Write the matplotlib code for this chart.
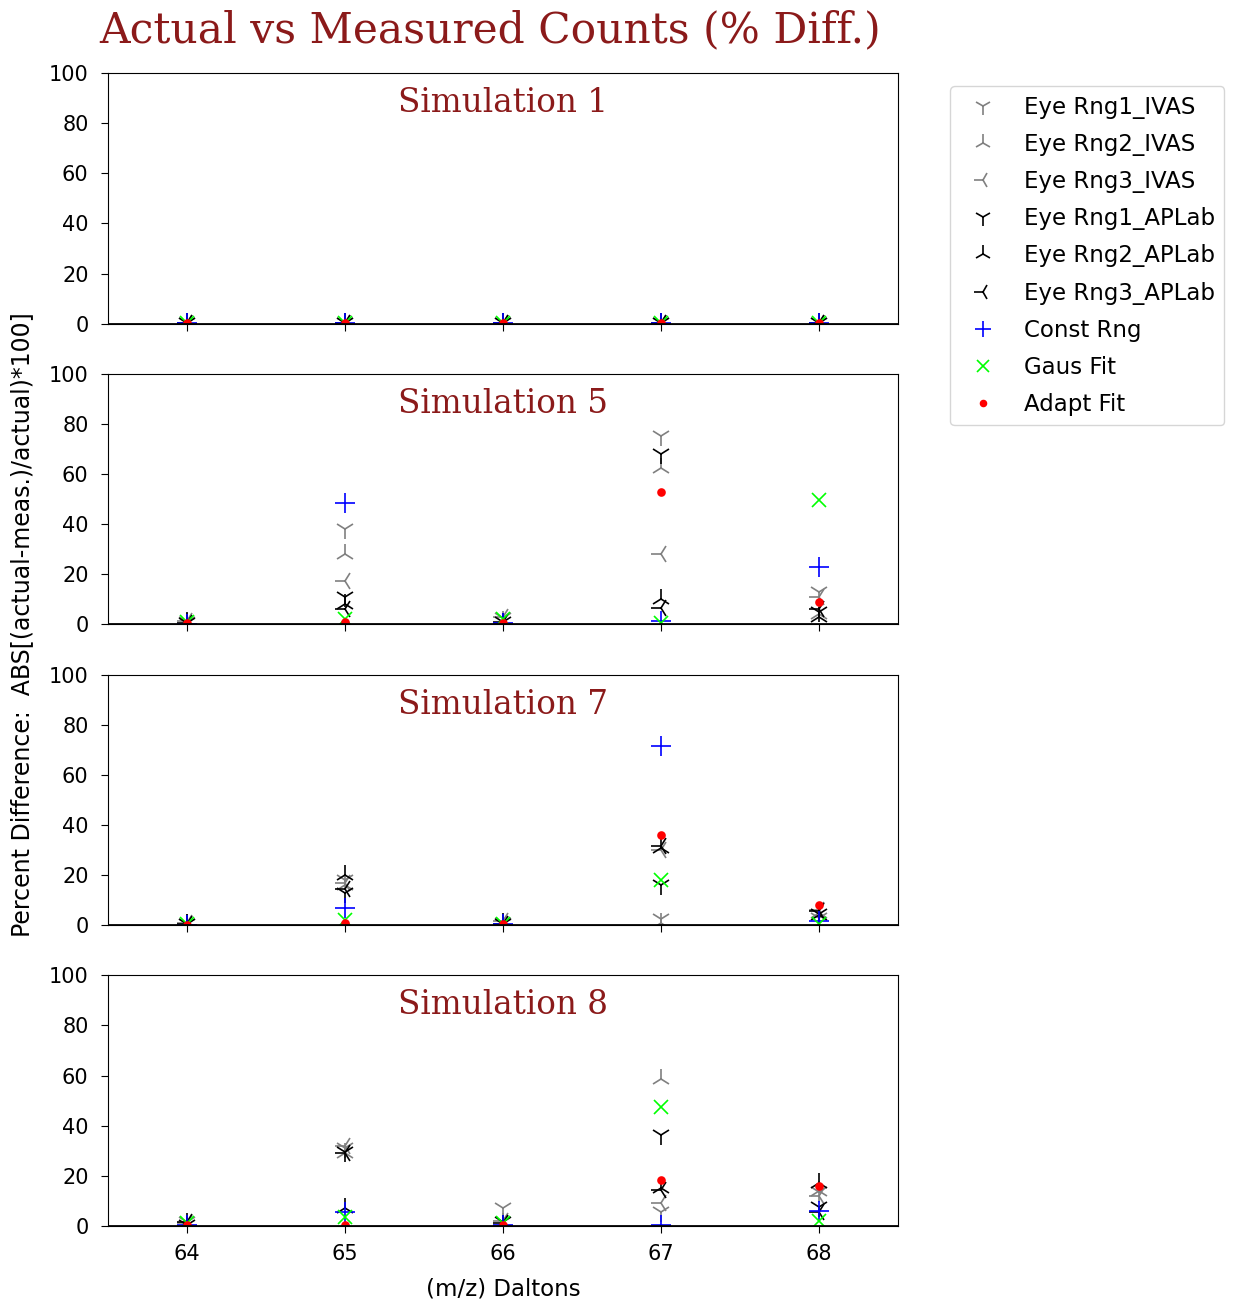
import matplotlib
matplotlib.use("Agg")
import matplotlib.pyplot as plt

masses = [64, 65, 66, 67, 68]
sim_names = ["Simulation 1", "Simulation 5", "Simulation 7", "Simulation 8"]
series_labels = ["Eye Rng1_IVAS", "Eye Rng2_IVAS", "Eye Rng3_IVAS",
                 "Eye Rng1_APLab", "Eye Rng2_APLab", "Eye Rng3_APLab",
                 "Const Rng", "Gaus Fit", "Adapt Fit"]

# percent difference per simulation, one list per method (order of series_labels)
sim1 = [
    [0.3, 0.3, 0.3, 0.3, 0.3],
    [0.2, 0.2, 0.2, 0.2, 0.2],
    [0.3, 0.3, 0.3, 0.3, 0.3],
    [0.3, 0.3, 0.3, 0.3, 0.3],
    [0.2, 0.2, 0.2, 0.2, 0.2],
    [0.3, 0.3, 0.3, 0.3, 0.3],
    [0.1, 0.1, 0.1, 0.1, 0.1],
    [0.1, 0.1, 0.1, 0.1, 0.1],
    [0.1, 0.1, 0.1, 0.1, 0.1],
]
sim5 = [
    [1.0, 38.0, 2.5, 75.0, 13.0],
    [0.5, 28.0, 1.5, 62.5, 4.0],
    [1.5, 17.5, 3.0, 28.0, 11.0],
    [0.5, 11.0, 1.0, 68.0, 5.0],
    [1.0, 8.0, 0.5, 10.0, 3.0],
    [0.5, 6.0, 1.0, 6.5, 6.0],
    [0.3, 48.5, 0.5, 1.5, 23.0],
    [1.0, 2.0, 2.0, 0.5, 49.5],
    [0.5, 1.0, 0.5, 53.0, 9.0],
]
sim7 = [
    [0.5, 18.0, 1.0, 2.5, 3.0],
    [0.3, 16.0, 0.5, 1.0, 5.0],
    [1.0, 17.0, 1.5, 30.0, 6.0],
    [0.5, 13.0, 0.5, 16.0, 4.5],
    [0.5, 20.0, 1.0, 31.0, 4.0],
    [0.3, 14.5, 0.5, 31.5, 5.5],
    [0.2, 7.0, 0.5, 71.5, 1.5],
    [0.5, 2.0, 0.5, 18.0, 0.5],
    [0.2, 1.0, 0.3, 36.0, 8.0],
]
sim8 = [
    [1.5, 31.0, 7.0, 5.5, 13.5],
    [0.5, 29.0, 1.0, 58.5, 14.0],
    [1.0, 32.0, 2.0, 9.0, 12.0],
    [0.5, 29.5, 1.5, 36.5, 7.5],
    [1.0, 7.0, 0.5, 15.0, 17.0],
    [1.5, 29.0, 1.0, 14.5, 5.5],
    [0.3, 5.5, 0.5, 0.5, 6.0],
    [1.0, 3.5, 1.0, 47.5, 2.0],
    [0.3, 0.5, 0.5, 18.5, 16.0],
]
all_sims = [sim1, sim5, sim7, sim8]

markers = ["1", "2", "3", "1", "2", "3", "+", "x", "."]
colors = ["grey", "grey", "grey", "black", "black", "black", "blue", "lime", "red"]
sizes = [15, 15, 15, 15, 15, 15, 14, 10, 10]

title_color = "#8b1a1a"

fig = plt.figure(figsize=(12.34, 13.01), dpi=100)
fig.subplots_adjust(left=0.0875, right=0.7277, top=1 - 73 / 1301,
                    bottom=1 - 1226 / 1301, hspace=0.2)
axes = fig.subplots(4, 1, sharex=True)

for ax, name, data in zip(axes, sim_names, all_sims):
    for vals, lab, m, c, s in zip(data, series_labels, markers, colors, sizes):
        ax.plot(masses, vals, linestyle="none", marker=m, color=c,
                markersize=s, markeredgewidth=1.2, label=lab)
    ax.axhline(0, color="black", linewidth=2)
    ax.set_xlim(63.5, 68.5)
    ax.set_ylim(0, 100)
    ax.set_yticks([0, 20, 40, 60, 80, 100])
    ax.set_xticks(masses)
    ax.tick_params(labelsize=15, length=5)
    ax.tick_params(axis="y", pad=9)
    ax.tick_params(axis="x", pad=8)
    ax.text(0.5, 0.88, name, transform=ax.transAxes, ha="center", va="center",
            family="DejaVu Serif", fontsize=23.5, color=title_color)

axes[-1].set_xlabel("(m/z) Daltons", fontsize=16.5, labelpad=10)

fig.text(490 / 1234, 1 - 30 / 1301, "Actual vs Measured Counts (% Diff.)",
         ha="center", va="center", family="DejaVu Serif", fontsize=30.5,
         color=title_color)
fig.text(22 / 1234, 1 - 625 / 1301,
         "Percent Difference:  ABS[(actual-meas.)/actual)*100]",
         rotation=90, ha="center", va="center", fontsize=17)

handles, labels = axes[0].get_legend_handles_labels()
fig.legend(handles, labels, loc="upper left",
           bbox_to_anchor=(939 / 1234, 1 - 75 / 1301), fontsize=16.5,
           labelspacing=0.62, markerscale=0.85)

fig.savefig("out.png", dpi=100)
